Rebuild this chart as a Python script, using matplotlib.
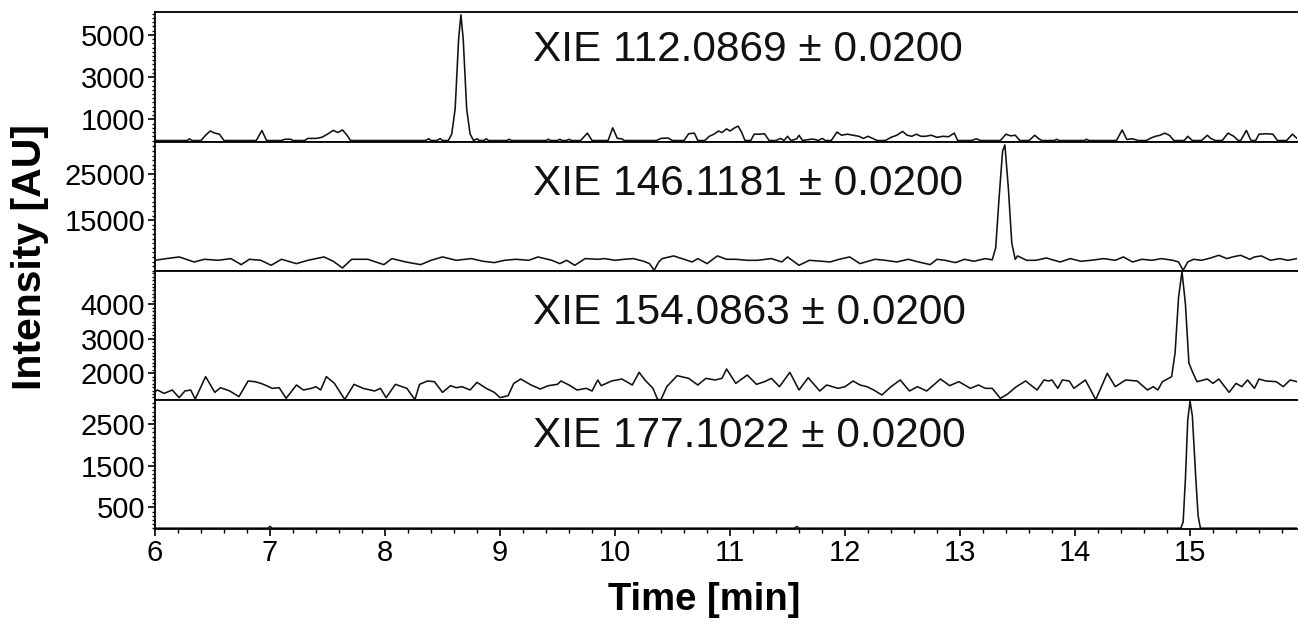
import matplotlib
matplotlib.use("Agg")
import matplotlib.pyplot as plt
from matplotlib.ticker import MultipleLocator, FixedLocator

plt.rcParams['font.family'] = ['Liberation Sans', 'DejaVu Sans']

# ---------------- data ----------------
labels = ["XIE 112.0869 ± 0.0200", "XIE 146.1181 ± 0.0200",
          "XIE 154.0863 ± 0.0200", "XIE 177.1022 ± 0.0200"]

t1 = [6.00, 6.28, 6.30, 6.32, 6.40, 6.44, 6.48, 6.52, 6.56, 6.60, 6.88, 6.93, 6.97, 7.10, 7.13, 7.18, 7.20,
      7.30, 7.33, 7.40, 7.45, 7.50, 7.55, 7.59, 7.63, 7.67, 7.70, 8.35, 8.38, 8.40, 8.45, 8.48, 8.50, 8.55,
      8.58, 8.61, 8.64, 8.66, 8.68, 8.71, 8.74, 8.77, 8.80, 8.82, 8.86, 8.88, 8.90, 9.06, 9.08, 9.10, 9.40,
      9.42, 9.44, 9.50, 9.52, 9.54, 9.58, 9.60, 9.62, 9.70, 9.76, 9.80, 9.94, 9.98, 10.02, 10.06, 10.08,
      10.36, 10.40, 10.46, 10.50, 10.60, 10.64, 10.69, 10.72, 10.78, 10.82, 10.86, 10.90, 10.93, 10.97,
      11.00, 11.04, 11.07, 11.10, 11.13, 11.18, 11.21, 11.26, 11.30, 11.34, 11.40, 11.44, 11.47, 11.50,
      11.53, 11.58, 11.60, 11.63, 11.70, 11.73, 11.77, 11.80, 11.83, 11.88, 11.93, 11.97, 12.02, 12.07,
      12.12, 12.16, 12.20, 12.24, 12.28, 12.35, 12.40, 12.45, 12.50, 12.54, 12.58, 12.62, 12.66, 12.70,
      12.75, 12.80, 12.85, 12.90, 12.95, 12.98, 13.10, 13.14, 13.18, 13.35, 13.40, 13.44, 13.48, 13.52,
      13.60, 13.65, 13.68, 13.71, 13.82, 13.84, 13.86, 14.08, 14.10, 14.12, 14.36, 14.41, 14.45, 14.50,
      14.55, 14.62, 14.66, 14.70, 14.74, 14.78, 14.82, 14.86, 14.95, 14.98, 15.02, 15.10, 15.15, 15.18,
      15.22, 15.28, 15.33, 15.38, 15.42, 15.44, 15.49, 15.53, 15.57, 15.60, 15.66, 15.72, 15.76, 15.84,
      15.89, 15.93]
y1 = [0, 0, 80, 0, 0, 250, 450, 350, 300, 0, 0, 470, 0, 0, 60, 60, 0,
      0, 100, 100, 150, 300, 480, 380, 500, 250, 0, 0, 80, 0, 0, 90, 0, 0,
      300, 1500, 4800, 5950, 4800, 1500, 300, 0, 80, 0, 0, 80, 0, 0, 60, 0, 0,
      60, 0, 0, 60, 0, 0, 60, 0, 0, 350, 0, 0, 600, 100, 80, 0,
      0, 100, 120, 0, 0, 320, 350, 0, 0, 200, 300, 450, 380, 550,
      450, 600, 680, 400, 0, 0, 300, 300, 320, 0, 0, 100, 0, 200,
      0, 80, 250, 0, 60, 60, 0, 100, 0, 0, 400, 250, 300, 250,
      200, 100, 200, 100, 0, 0, 150, 250, 430, 250, 200, 300, 200, 200,
      250, 150, 200, 180, 350, 0, 0, 80, 0, 0, 300, 220, 250, 0,
      0, 250, 100, 0, 0, 60, 0, 0, 60, 0, 0, 500, 50, 80,
      0, 0, 120, 200, 250, 350, 250, 0, 0, 200, 0, 0, 250, 100,
      0, 0, 350, 200, 0, 0, 480, 0, 0, 300, 320, 300, 0, 0,
      300, 100]

t2 = [6.00, 6.10, 6.21, 6.34, 6.43, 6.55, 6.66, 6.75, 6.82, 6.92, 7.01, 7.10, 7.23, 7.33, 7.47, 7.55, 7.63,
      7.71, 7.85, 7.99, 8.06, 8.18, 8.31, 8.40, 8.50, 8.62, 8.75, 8.85, 8.95, 9.04, 9.14, 9.25, 9.33, 9.45,
      9.52, 9.58, 9.65, 9.74, 9.85, 9.91, 10.00, 10.08, 10.16, 10.25, 10.30, 10.34, 10.38, 10.41, 10.51,
      10.60, 10.67, 10.72, 10.80, 10.89, 10.97, 11.05, 11.15, 11.24, 11.36, 11.45, 11.50, 11.60, 11.69,
      11.80, 11.87, 11.95, 12.04, 12.13, 12.26, 12.35, 12.45, 12.55, 12.64, 12.74, 12.80, 12.87, 12.96,
      13.04, 13.12, 13.22, 13.28, 13.31, 13.34, 13.37, 13.39, 13.42, 13.45, 13.48, 13.50, 13.58, 13.66,
      13.75, 13.87, 13.96, 14.05, 14.14, 14.25, 14.35, 14.42, 14.50, 14.58, 14.67, 14.75, 14.85, 14.90,
      14.94, 14.98, 15.03, 15.10, 15.18, 15.25, 15.32, 15.37, 15.44, 15.52, 15.56, 15.62, 15.70, 15.78,
      15.85, 15.93]
y2 = [6300, 6670, 7030, 5940, 6520, 6300, 6670, 5360, 6520, 6300, 5220, 6520, 5580, 6300, 7030, 6090, 4640,
      6520, 6520, 5360, 6670, 5940, 5360, 6300, 7030, 6300, 6670, 6100, 5800, 6300, 6520, 6300, 7030, 6300,
      5580, 6300, 5220, 6670, 6520, 6670, 6300, 6520, 6670, 6090, 5580, 4130, 5940, 6670, 7250,
      6520, 5940, 6670, 5580, 7250, 6520, 6520, 6300, 6300, 6670, 5940, 7030, 5220, 6300,
      6090, 5940, 6520, 7030, 5580, 6520, 6300, 5940, 6520, 5940, 5360, 6520, 6300, 5800,
      6520, 6090, 6670, 6400, 9000, 20000, 30000, 31300, 22000, 10000, 6500, 7250, 6300, 6300,
      6810, 5940, 6670, 6090, 6300, 6670, 6300, 7030, 5940, 6520, 6300, 6670, 6300, 5940,
      4130, 5940, 6520, 6300, 6810, 7390, 6670, 7030, 7390, 6520, 7030, 7250, 6300, 6670,
      6300, 6670]

t3 = [6.00, 6.02, 6.08, 6.15, 6.21, 6.26, 6.31, 6.35, 6.44, 6.52, 6.57, 6.65, 6.73, 6.81, 6.87, 6.92, 6.97,
      7.02, 7.08, 7.14, 7.23, 7.29, 7.36, 7.40, 7.44, 7.49, 7.56, 7.65, 7.73, 7.81, 7.91, 7.96, 8.01, 8.09,
      8.19, 8.26, 8.30, 8.37, 8.43, 8.50, 8.57, 8.62, 8.67, 8.74, 8.80, 8.88, 8.95, 9.00, 9.07, 9.12, 9.18,
      9.27, 9.35, 9.42, 9.50, 9.53, 9.60, 9.67, 9.75, 9.80, 9.85, 9.88, 9.97, 10.06, 10.15, 10.21, 10.26,
      10.33, 10.37, 10.40, 10.45, 10.54, 10.64, 10.72, 10.79, 10.87, 10.93, 10.97, 11.05, 11.15, 11.23,
      11.30, 11.36, 11.43, 11.52, 11.60, 11.68, 11.78, 11.84, 11.94, 12.00, 12.07, 12.13, 12.19, 12.25,
      12.32, 12.40, 12.48, 12.56, 12.63, 12.71, 12.77, 12.83, 12.91, 12.99, 13.09, 13.16, 13.22, 13.28,
      13.35, 13.41, 13.49, 13.57, 13.67, 13.73, 13.77, 13.80, 13.85, 13.89, 13.95, 13.99, 14.09, 14.18,
      14.28, 14.35, 14.44, 14.54, 14.63, 14.68, 14.72, 14.76, 14.84, 14.87, 14.90, 14.93, 14.96, 14.99,
      15.02, 15.06, 15.15, 15.20, 15.25, 15.34, 15.40, 15.45, 15.50, 15.56, 15.60, 15.66, 15.75, 15.81,
      15.87, 15.93]
y3 = [1467, 1516, 1419, 1516, 1294, 1487, 1516, 1255, 1902, 1448, 1583, 1487, 1323, 1777, 1757, 1709, 1641,
      1564, 1583, 1274, 1661, 1516, 1564, 1612, 1516, 1902, 1709, 1240, 1680, 1564, 1487, 1564, 1294, 1680,
      1564, 1235, 1680, 1777, 1757, 1448, 1641, 1583, 1612, 1516, 1738, 1564, 1448, 1294, 1351, 1709, 1834,
      1661, 1545, 1641, 1680, 1777, 1661, 1516, 1564, 1487, 1806, 1641, 1777, 1834, 1661, 2028, 1806,
      1564, 1240, 1240, 1612, 1931, 1854, 1661, 1854, 1806, 1854, 2124, 1709, 1950, 1680,
      1757, 1854, 1612, 2028, 1516, 1873, 1487, 1661, 1564, 1612, 1777, 1661, 1612, 1516,
      1371, 1612, 1806, 1487, 1612, 1487, 1661, 1834, 1641, 1757, 1564, 1661, 1564, 1564,
      1274, 1390, 1612, 1777, 1516, 1806, 1777, 1806, 1564, 1806, 1777, 1564, 1806, 1235,
      1999, 1612, 1806, 1777, 1516, 1612, 1516, 1757, 1902, 2600, 4200, 4950, 4000, 2300,
      2050, 1757, 1834, 1709, 1834, 1448, 1709, 1612, 1806, 1564, 1834, 1777, 1757, 1612,
      1806, 1757]

t4 = [6.00, 6.98, 7.00, 7.02, 11.56, 11.58, 11.60, 14.92, 14.94, 14.96, 14.98, 15.00, 15.02, 15.05, 15.07,
      15.09, 15.93]
y4 = [0, 0, 40, 0, 0, 40, 0, 0, 150, 1200, 2600, 3050, 2700, 1200, 300, 0, 0]

ylims = [(-70, 6080), (3980, 31960), (1226, 4965), (-20, 3080)]
yticks = [[1000, 3000, 5000], [15000, 25000], [2000, 3000, 4000], [500, 1500, 2500]]
yminor = [200, 1000, 100, 100]
xticks = [6, 7, 8, 9, 10, 11, 12, 13, 14, 15]
text_y = [0.62, 0.59, 0.59, 0.635]

# ---------------- figure ----------------
fig = plt.figure(figsize=(12.98, 6.29), dpi=100)
L, R = 155 / 1298, 1297 / 1298
tops = [12, 142, 271, 400]
bots = [142, 271, 400, 529]
series = [(t1, y1), (t2, y2), (t3, y3), (t4, y4)]
for i in range(4):
    b = 1 - bots[i] / 629
    h = (bots[i] - tops[i]) / 629
    ax = fig.add_axes([L, b, R - L, h])
    t, y = series[i]
    ax.plot(t, y, color='#111111', lw=1.15, solid_joinstyle='round')
    ax.set_xlim(6, 15.93)
    ax.set_ylim(*ylims[i])
    ax.yaxis.set_major_locator(FixedLocator(yticks[i]))
    ax.yaxis.set_minor_locator(MultipleLocator(yminor[i]))
    ax.xaxis.set_major_locator(FixedLocator(xticks))
    ax.xaxis.set_minor_locator(MultipleLocator(0.2))
    ax.spines['right'].set_visible(False)
    for s in ['top', 'bottom', 'left']:
        ax.spines[s].set_linewidth(1.3)
    ax.tick_params(axis='y', which='major', length=5, width=1.2, labelsize=21, pad=2)
    ax.tick_params(axis='y', which='minor', length=2.5, width=1.0)
    if i < 3:
        ax.tick_params(axis='x', which='both', bottom=False, labelbottom=False)
    else:
        ax.tick_params(axis='x', which='major', length=5, width=1.2, labelsize=21, pad=2)
        ax.tick_params(axis='x', which='minor', length=3, width=1.0)
    ax.text(0.331, text_y[i], labels[i], transform=ax.transAxes, fontsize=30.5,
            ha='left', va='baseline', color='#111111')

fig.text(30 / 1298, 1 - 257 / 629, "Intensity [AU]", rotation=90, fontsize=29.5,
         fontweight='bold', ha='center', va='center')
fig.text(704 / 1298, 1 - 600 / 629, "Time [min]", fontsize=27.5,
         fontweight='bold', ha='center', va='center')

fig.savefig("out.png", dpi=100)
